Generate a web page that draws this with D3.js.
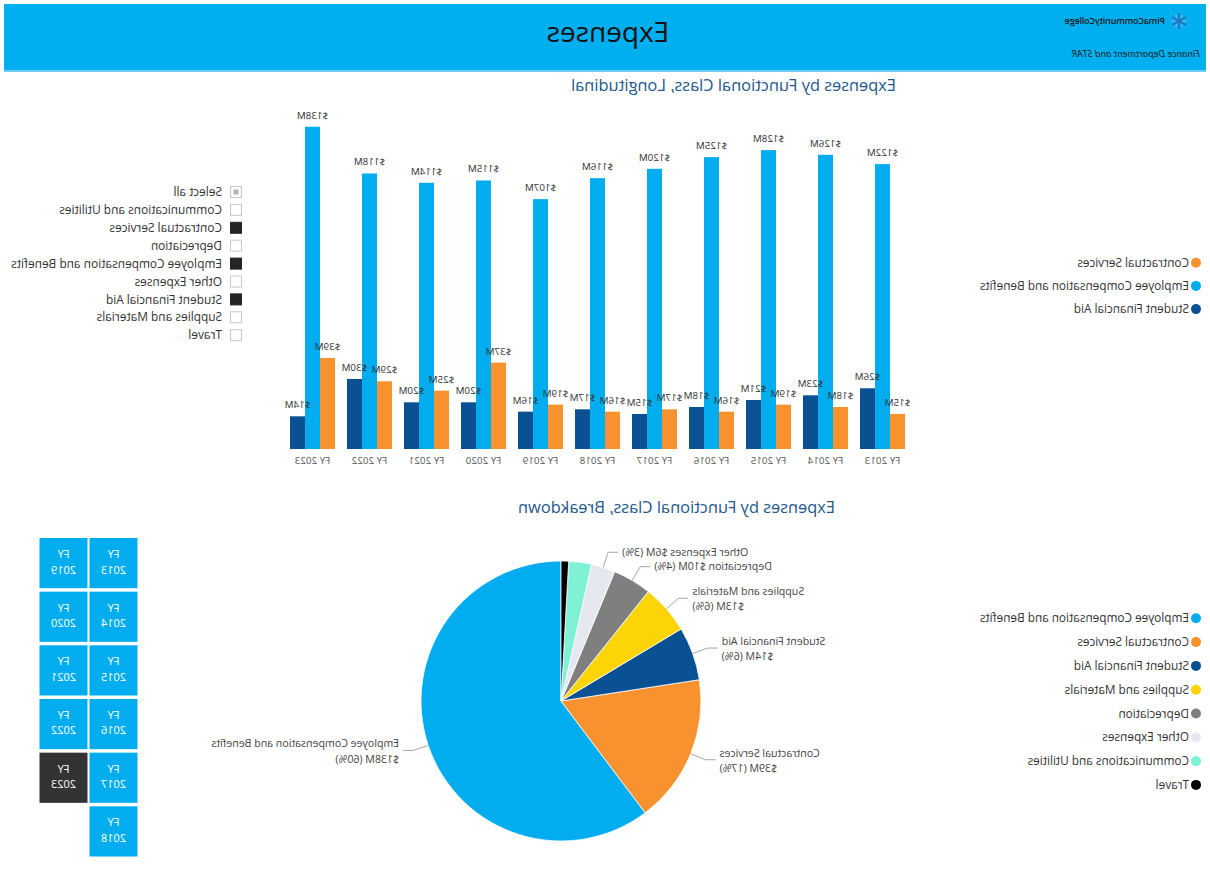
<!DOCTYPE html>
<html>
<head>
<meta charset="utf-8">
<script src="https://cdn.jsdelivr.net/npm/d3@7"></script>
<style>
  html, body { margin: 0; padding: 0; background: #fff; }
  svg { display: block; }
</style>
</head>
<body>
<script>
// ---------------- DATA ----------------
const years = ["FY 2013","FY 2014","FY 2015","FY 2016","FY 2017","FY 2018","FY 2019","FY 2020","FY 2021","FY 2022","FY 2023"];
const barSeries = ["Contractual Services","Employee Compensation and Benefits","Student Financial Aid"];
const contractualServices = [15,18,19,16,17,16,19,37,25,29,39];
const employeeCompensation = [122,126,128,125,120,116,107,115,114,118,138];
const studentFinancialAid = [26,23,21,18,15,17,16,20,20,30,14];

const slicerItems = ["Select all","Communications and Utilities","Contractual Services","Depreciation","Employee Compensation and Benefits","Other Expenses","Student Financial Aid","Supplies and Materials","Travel"];
const slicerState = ["partial","off","on","off","on","off","on","off","off"];

const pieCategories = ["Employee Compensation and Benefits","Contractual Services","Student Financial Aid","Supplies and Materials","Depreciation","Other Expenses","Communications and Utilities","Travel"];
const pieValues = [137.8,39.2,14.1,13.0,10.2,6.3,6.0,2.0];
const pieSingleLineLabels = ["Depreciation","Other Expenses"];
const pieHiddenLabels = ["Communications and Utilities","Travel"];

const tileYears = ["FY 2013","FY 2014","FY 2015","FY 2016","FY 2017","FY 2018","FY 2019","FY 2020","FY 2021","FY 2022","FY 2023"];
const selectedYear = "FY 2023";

const colors = {
  "Employee Compensation and Benefits": "#01ADEF",
  "Contractual Services": "#F7922F",
  "Student Financial Aid": "#0A5193",
  "Supplies and Materials": "#FDD406",
  "Depreciation": "#7F7F7F",
  "Other Expenses": "#E5E8EE",
  "Communications and Utilities": "#7FF1D7",
  "Travel": "#000000"
};

// ---------------- SETUP ----------------
const W = 1210, H = 894;
const FONT = "'Open Sans', 'Noto Sans', sans-serif";
const svg = d3.select("body").append("svg")
  .attr("width", W).attr("height", H)
  .style("transform", "scaleX(-1)")
  .style("font-family", FONT);

// ---------------- HEADER ----------------
svg.append("rect").attr("x", 4).attr("y", 4).attr("width", W - 8).attr("height", 67).attr("fill", "#00AFEF");
svg.append("rect").attr("x", 4).attr("y", 70).attr("width", W - 8).attr("height", 2).attr("fill", "#6FD0F5");
svg.append("text").attr("x", 602).attr("y", 42).attr("text-anchor", "middle")
  .attr("font-size", 28).attr("fill", "#111").text("Expenses");

// logo (snowflake mark)
const logo = svg.append("g").attr("transform", "translate(31,21)");
[0, 60, 120].forEach(a => {
  logo.append("line").attr("x1", 0).attr("y1", -8).attr("x2", 0).attr("y2", 8)
    .attr("stroke", "#2C6FB6").attr("stroke-width", 1.6).attr("transform", `rotate(${a})`);
});
[30, 90, 150, 210, 270, 330].forEach(a => {
  logo.append("line").attr("x1", 0).attr("y1", -4).attr("x2", 0).attr("y2", -7)
    .attr("stroke", "#7BB6E6").attr("stroke-width", 1.2).attr("transform", `rotate(${a})`);
});
svg.append("text").attr("x", 45).attr("y", 23.5).attr("font-size", 9).attr("font-weight", 600)
  .attr("fill", "#1a1a1a").attr("letter-spacing", -0.2).text("PimaCommunityCollege");
svg.append("text").attr("x", 10).attr("y", 57).attr("font-size", 9.6).attr("font-style", "italic")
  .attr("fill", "#1a1a1a").text("Finance Department and STAR");

// ---------------- TITLES ----------------
svg.append("text").attr("x", 476.5).attr("y", 91).attr("text-anchor", "middle")
  .attr("font-size", 16.4).attr("fill", "#22588D").text("Expenses by Functional Class, Longitudinal");
svg.append("text").attr("x", 533.5).attr("y", 513).attr("text-anchor", "middle")
  .attr("font-size", 16.4).attr("fill", "#22588D").text("Expenses by Functional Class, Breakdown");

// ---------------- BAR CHART ----------------
const seriesValues = {
  "Contractual Services": contractualServices,
  "Employee Compensation and Benefits": employeeCompensation,
  "Student Financial Aid": studentFinancialAid
};
const x0 = d3.scaleBand().domain(years).range([299, 926]).paddingInner(0.21).paddingOuter(0.105);
const x1 = d3.scaleBand().domain(barSeries).range([0, x0.bandwidth()]);
const y = d3.scaleLinear().domain([0, 140]).range([449, 449 - 2.335 * 140]);
const fmtM = v => "$" + d3.format(".0f")(v) + "M";

const groups = svg.append("g").selectAll("g").data(years).join("g")
  .attr("transform", d => `translate(${x0(d)},0)`);
groups.selectAll("rect").data((d, i) => barSeries.map(s => ({ s, v: seriesValues[s][i] }))).join("rect")
  .attr("x", d => x1(d.s)).attr("width", x1.bandwidth())
  .attr("y", d => y(d.v)).attr("height", d => y(0) - y(d.v))
  .attr("fill", d => colors[d.s]);
groups.selectAll("text").data((d, i) => barSeries.map(s => ({ s, v: seriesValues[s][i] }))).join("text")
  .attr("x", d => x1(d.s) + x1.bandwidth() / 2).attr("y", d => y(d.v) - 8)
  .attr("text-anchor", "middle").attr("font-size", 9.8).attr("fill", "#333").text(d => fmtM(d.v));

const xAxis = svg.append("g").attr("transform", `translate(0,${y(0)})`)
  .call(d3.axisBottom(x0).tickSize(0).tickPadding(8));
xAxis.select(".domain").remove();
xAxis.selectAll("text").attr("font-size", 9.8).attr("fill", "#555").style("font-family", FONT);

// bar legend
const legend1 = svg.append("g").selectAll("g").data(barSeries).join("g")
  .attr("transform", (d, i) => `translate(14,${262.7 + i * 23.2})`);
legend1.append("circle").attr("r", 5).attr("fill", d => colors[d]);
legend1.append("text").attr("x", 7).attr("dy", "0.35em").attr("font-size", 11.8).attr("fill", "#333").text(d => d);

// ---------------- SLICER ----------------
const slicer = svg.append("g").selectAll("g").data(slicerItems).join("g")
  .attr("transform", (d, i) => `translate(968,${192 + i * 17.9})`);
slicer.append("rect").attr("x", 0.5).attr("y", -5.5).attr("width", 11).attr("height", 11)
  .attr("fill", (d, i) => slicerState[i] === "on" ? "#252525" : "#fff")
  .attr("stroke", (d, i) => slicerState[i] === "on" ? "#252525" : "#C8C8C8").attr("stroke-width", 1);
slicer.filter((d, i) => slicerState[i] === "partial").append("rect")
  .attr("x", 3.5).attr("y", -2.5).attr("width", 5).attr("height", 5).attr("fill", "#B5B5B5");
slicer.append("text").attr("x", 20).attr("dy", "0.35em").attr("font-size", 11.9).attr("fill", "#333").text(d => d);

// ---------------- PIE ----------------
const cx = 649, cy = 701, R = 140;
const pieData = pieCategories.map((c, i) => ({ c, v: pieValues[i] }));
const total = d3.sum(pieValues);
const arcs = d3.pie().sort(null).value(d => d.v)(pieData);
const arc = d3.arc().innerRadius(0).outerRadius(R);
const pieG = svg.append("g").attr("transform", `translate(${cx},${cy})`);
pieG.selectAll("path").data(arcs).join("path")
  .attr("d", arc).attr("fill", d => colors[d.data.c])
  .attr("stroke", "#fff").attr("stroke-width", 0.8);

const labeled = arcs.filter(d => !pieHiddenLabels.includes(d.data.c));
labeled.forEach(d => {
  const a = (d.startAngle + d.endAngle) / 2;
  const sx = Math.sin(a), sy = -Math.cos(a);
  const side = sx >= 0 ? 1 : -1;
  const p0 = [R * sx, R * sy];
  const p1 = [(R + 16) * sx, (R + 16) * sy];
  const p2 = [p1[0] + side * 10, p1[1]];
  pieG.append("polyline").attr("points", [p0, p1, p2].map(p => p.join(",")).join(" "))
    .attr("fill", "none").attr("stroke", "#A6A6A6").attr("stroke-width", 1);
  const valTxt = fmtM(d.data.v) + " (" + d3.format(".0f")(d.data.v / total * 100) + "%)";
  const t = pieG.append("text").attr("x", p2[0] + side * 4).attr("y", p2[1])
    .attr("text-anchor", side > 0 ? "start" : "end").attr("font-size", 10.6).attr("fill", "#444");
  if (pieSingleLineLabels.includes(d.data.c)) {
    t.append("tspan").attr("x", p2[0] + side * 4).attr("dy", "0.35em").text(d.data.c + " " + valTxt);
  } else {
    t.append("tspan").attr("x", p2[0] + side * 4).attr("dy", "-0.3em").text(d.data.c);
    t.append("tspan").attr("x", p2[0] + side * 4).attr("dy", "1.45em").text(valTxt);
  }
});

// pie legend
const legend2 = svg.append("g").selectAll("g").data(pieCategories).join("g")
  .attr("transform", (d, i) => `translate(14,${618.3 + i * 23.8})`);
legend2.append("circle").attr("r", 5).attr("fill", d => colors[d]);
legend2.append("text").attr("x", 7).attr("dy", "0.35em").attr("font-size", 11.8).attr("fill", "#333").text(d => d);

// ---------------- YEAR TILES ----------------
const colScale = d3.scaleBand().domain([0, 1]).range([1072.5, 1170.5]).paddingInner(0.04);
const rowScale = d3.scaleBand().domain(d3.range(6)).range([538, 856.5]).paddingInner(0.065);
const tiles = svg.append("g").selectAll("g").data(tileYears).join("g")
  .attr("transform", (d, i) => `translate(${colScale(Math.floor(i / 6))},${rowScale(i % 6)})`);
tiles.append("rect").attr("width", colScale.bandwidth()).attr("height", rowScale.bandwidth())
  .attr("fill", d => d === selectedYear ? "#333333" : "#01ADEF");
tiles.append("text").attr("x", colScale.bandwidth() / 2).attr("y", 20).attr("text-anchor", "middle")
  .attr("font-size", 11).attr("fill", "#fff").text(d => d.split(" ")[0]);
tiles.append("text").attr("x", colScale.bandwidth() / 2).attr("y", 35.5).attr("text-anchor", "middle")
  .attr("font-size", 11).attr("fill", "#fff").text(d => d.split(" ")[1]);
</script>
</body>
</html>
